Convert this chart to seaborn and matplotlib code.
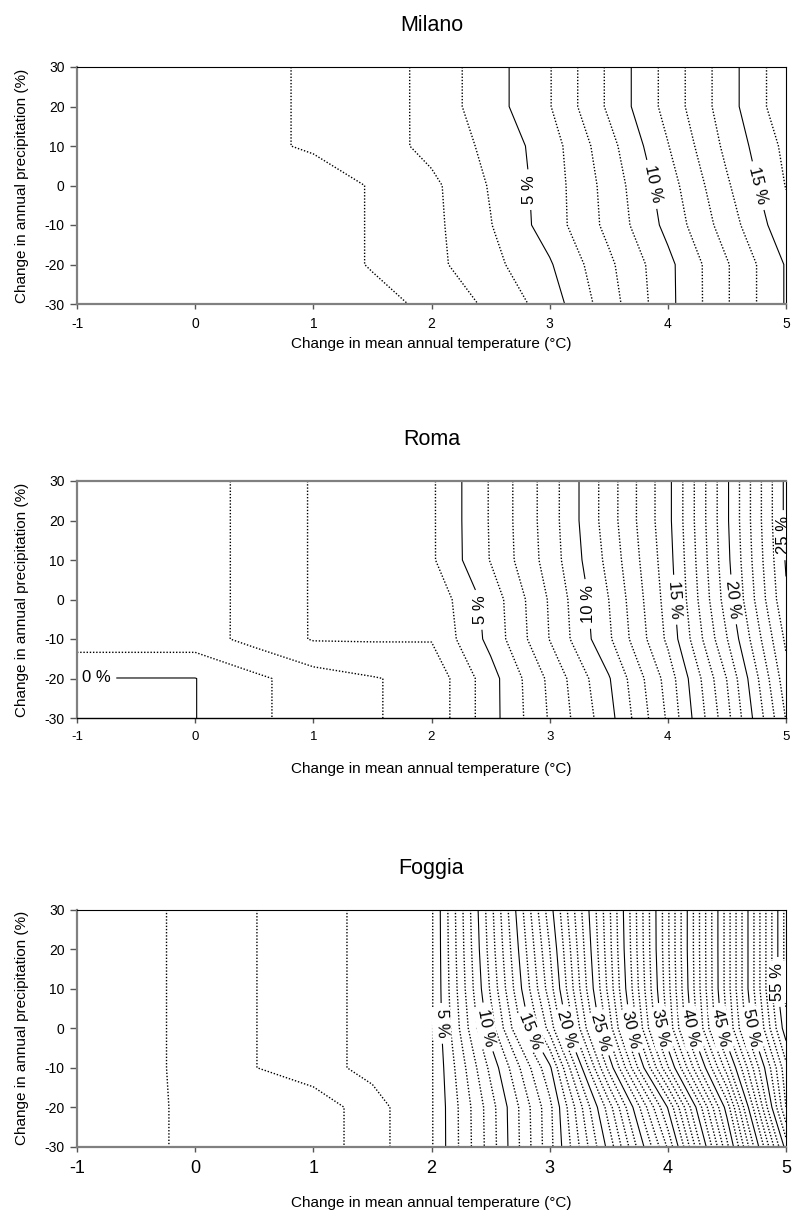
import numpy as np
import pandas as pd
import matplotlib
matplotlib.use("Agg")
import matplotlib.pyplot as plt
import seaborn as sns

sns.set_theme(style="ticks")
plt.rcParams["font.family"] = ["Liberation Sans", "DejaVu Sans"]
plt.rcParams["axes.unicode_minus"] = False

# Grid of the scenario runs: temperature change (°C) x precipitation change (%)
temp_change = [-1, -0.5, 0, 0.5, 1, 1.5, 2, 2.5, 3, 3.5, 4, 4.5, 5]
precip_change = [-30, -20, -10, 0, 10, 20, 30]

# Simulated change (%) at each grid node, one row per precipitation step (-30 ... 30)
milano_change = [
    [0.10, 0.15, 0.20, 0.25, 0.33, 0.65, 1.65, 2.73, 4.34, 6.94, 9.63, 12.39, 15.10],
    [0.10, 0.15, 0.20, 0.25, 0.33, 1.39, 2.15, 3.37, 4.87, 7.24, 9.66, 12.39, 15.10],
    [0.10, 0.15, 0.20, 0.25, 0.33, 1.39, 2.15, 3.70, 5.575, 7.85, 10.36, 13.11, 15.84],
    [0.10, 0.15, 0.20, 0.25, 0.33, 1.39, 2.20, 3.86, 5.59, 7.97, 10.68, 13.58, 16.30],
    [0.20, 0.40, 0.60, 0.87, 1.48, 1.81, 2.90, 4.05, 5.66, 8.30, 11.19, 14.07, 16.57],
    [0.20, 0.40, 0.60, 0.87, 1.48, 1.68, 2.98, 4.46, 6.18, 8.96, 11.69, 14.44, 17.14],
    [0.20, 0.40, 0.60, 0.87, 1.48, 1.68, 2.98, 4.46, 6.18, 8.96, 11.69, 14.44, 17.14],
]
roma_change = [
    [-0.02, -0.02, -0.02, 0.765, 1.55, 1.94, 2.28, 4.60, 7.10, 9.63, 13.15, 17.67, 23.05],
    [-0.02, -0.02, -0.02, 0.765, 1.55, 1.94, 2.28, 4.60, 7.22, 9.91, 13.40, 18.03, 23.60],
    [1.52, 1.52, 1.52, 2.33, 3.07, 3.083, 3.06, 5.30, 8.03, 10.83, 14.20, 18.96, 24.20],
    [1.50, 1.60, 1.75, 2.17, 3.09, 3.17, 3.25, 5.40, 8.11, 11.00, 14.40, 19.50, 24.86],
    [1.50, 1.60, 1.75, 2.17, 3.09, 3.47, 3.85, 6.05, 8.43, 11.30, 14.55, 19.73, 25.10],
    [1.50, 1.60, 1.75, 2.17, 3.09, 3.47, 3.85, 6.09, 8.51, 11.51, 14.69, 19.85, 25.25],
    [1.50, 1.60, 1.75, 2.17, 3.09, 3.47, 3.85, 6.09, 8.51, 11.51, 14.69, 19.85, 25.25],
]
foggia_change = [
    [0.05, 0.75, 1.20, 1.27, 1.33, 2.62, 3.90, 8.49, 13.63, 20.36, 28.15, 38.70, 50.40],
    [0.05, 0.75, 1.20, 1.27, 1.33, 2.62, 3.90, 8.55, 13.70, 21.50, 30.07, 40.45, 53.00],
    [0.05, 0.66, 1.32, 1.97, 2.63, 3.28, 3.89, 9.26, 14.78, 24.31, 33.88, 43.50, 53.70],
    [0.05, 0.66, 1.32, 1.97, 2.63, 3.28, 3.87, 10.51, 17.39, 26.45, 36.18, 46.00, 55.60],
    [0.05, 0.66, 1.32, 1.97, 2.63, 3.28, 3.84, 11.14, 18.50, 27.31, 36.65, 46.47, 56.37],
    [0.05, 0.66, 1.32, 1.97, 2.63, 3.28, 3.84, 11.45, 18.98, 27.60, 36.83, 46.47, 56.37],
    [0.05, 0.66, 1.32, 1.97, 2.63, 3.28, 3.84, 11.65, 19.55, 27.76, 36.83, 46.47, 56.37],
]

# Contour levels: labelled (solid) and intermediate (dotted)
milano_major = [5, 10, 15]
milano_minor = [1.25, 2.5, 3.75, 6.25, 7.5, 8.75, 11.25, 12.5, 13.75, 16.25]
roma_major = [0, 5, 10, 15, 20, 25]
roma_minor = [v for v in range(1, 30) if v % 5]
foggia_major = [5, 10, 15, 20, 25, 30, 35, 40, 45, 50, 55]
foggia_minor = [v for v in range(1, 60) if v % 5]

# Where each label sits on its line, and which way it reads
milano_labels = [(2.86, -1.0), (3.91, 0.6), (4.73, -0.3)]
milano_label_dir = ["up", "down", "down"]
roma_labels = [(-0.84, -20.0), (2.42, -2.5), (3.375, -1.0), (4.085, 0.0),
               (4.548, 0.0), (4.99, 16.3)]
roma_label_dir = ["flat", "up", "up", "down", "down", "up"]
foggia_labels = [(2.048, 1.2), (2.486, 0.3), (2.895, 0.3), (3.19, 0.3),
                 (3.43, -0.9), (3.658, -0.5), (3.912, 0.0), (4.167, 0.0),
                 (4.42, 0.0), (4.66, 0.0), (4.94, 11.7)]
foggia_label_dir = ["down"] * 10 + ["up"]

GRAY = "#808080"
W, H = 792, 1211


def orient(rotation, direction):
    """Turn a contour-label angle so the text reads up, down or flat."""
    r = rotation % 360
    if r > 180:
        r -= 360
    if direction == "flat":
        return 0
    if direction == "up":
        return r if r > 0 else 90
    return r if r < 0 else -90 if r >= 90 else r - 180


def draw_panel(ax, name, grid, minor, major, labels, label_dir,
               top_gray, bottom_gray, xtick_size, xlabel_drop):
    df = pd.DataFrame(grid, index=precip_change, columns=temp_change)
    X, Y = np.meshgrid(df.columns.to_numpy(float), df.index.to_numpy(float))
    Z = df.to_numpy(float)

    dots = ax.contour(X, Y, Z, levels=minor, colors="black",
                      linewidths=1.0, linestyles="dotted")
    dots.set_linestyle((0, (1.0, 1.3)))
    cs = ax.contour(X, Y, Z, levels=major, colors="black",
                    linewidths=0.8, linestyles="solid")
    texts = ax.clabel(cs, fmt=lambda v: f"{v:g} %", manual=labels,
                      inline=True, inline_spacing=6, fontsize=12,
                      colors="black")
    for t, d in zip(texts, label_dir):
        t.set_rotation(orient(t.get_rotation(), d))
        t.set_bbox(dict(boxstyle="square,pad=0.12", fc="white", ec="none"))
        t.set_zorder(5)

    ax.set_xlim(-1, 5)
    ax.set_ylim(-30, 30)
    ax.set_xticks(range(-1, 6))
    ax.set_yticks(range(-30, 31, 10))
    ax.tick_params(axis="x", length=3.6, width=1.0, pad=6,
                   labelsize=xtick_size, color="#555555", labelcolor="black")
    ax.tick_params(axis="y", length=5.2, width=1.0, pad=3.8,
                   labelsize=10, color="#555555", labelcolor="black")

    for side in ("left", "right", "top", "bottom"):
        ax.spines[side].set_visible(True)
    ax.spines["left"].set_color(GRAY)
    ax.spines["left"].set_linewidth(1.6)
    ax.spines["right"].set_color("black")
    ax.spines["right"].set_linewidth(0.8)
    ax.spines["top"].set_color(GRAY if top_gray else "black")
    ax.spines["top"].set_linewidth(1.6 if top_gray else 0.8)
    ax.spines["bottom"].set_color(GRAY if bottom_gray else "black")
    ax.spines["bottom"].set_linewidth(1.6 if bottom_gray else 1.0)

    ax.set_title(name, fontsize=15.5, pad=26, color="black")
    ax.set_xlabel("Change in mean annual temperature (°C)", fontsize=11,
                  color="black")
    ax.xaxis.set_label_coords(0.5, -xlabel_drop / 237)
    ax.xaxis.label.set_verticalalignment("center")
    ax.set_ylabel("Change in annual precipitation (%)", fontsize=11,
                  color="black")
    ax.yaxis.set_label_coords(-55 / 709, 0.5)
    ax.yaxis.label.set_verticalalignment("center")


fig = plt.figure(figsize=(W / 100, H / 100), dpi=100)
left, width, height = 77 / W, 709 / W, 237 / H

ax1 = fig.add_axes([left, (H - 304) / H, width, height])
draw_panel(ax1, "Milano", milano_change, milano_minor, milano_major,
           milano_labels, milano_label_dir, False, True, 10, 40)

ax2 = fig.add_axes([left, (H - 718) / H, width, height])
draw_panel(ax2, "Roma", roma_change, roma_minor, roma_major,
           roma_labels, roma_label_dir, True, False, 9.5, 51)

ax3 = fig.add_axes([left, (H - 1146.7) / H, width, height])
draw_panel(ax3, "Foggia", foggia_change, foggia_minor, foggia_major,
           foggia_labels, foggia_label_dir, False, True, 13, 56)

fig.savefig("out.png", dpi=100, facecolor="white")
